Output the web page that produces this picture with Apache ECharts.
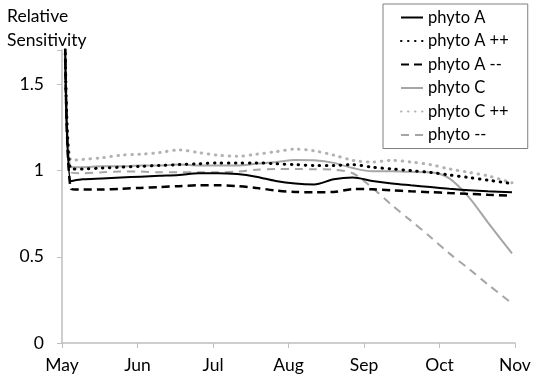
<!DOCTYPE html>
<html>
<head>
<meta charset="utf-8">
<script src="https://cdn.jsdelivr.net/npm/echarts@6/dist/echarts.min.js"></script>
<style>html,body{margin:0;padding:0;background:#fff}#c{width:550px;height:382px}</style>
</head>
<body>
<div id="c"></div>
<script>
// x positions in months since 1 May
var xMonths = [0.04, 0.12, 0.27, 0.53, 0.78, 1.04, 1.29, 1.55, 1.81, 2.06, 2.32, 2.57, 2.83, 3.09, 3.34, 3.6, 3.85, 4.11, 4.37, 4.62, 4.88, 5.13, 5.39, 5.64, 5.96];
var monthLabels = ['May', 'Jun', 'Jul', 'Aug', 'Sep', 'Oct', 'Nov'];
var yTicks = [0, 0.5, 1, 1.5];
var seriesNames = ['phyto A', 'phyto A ++', 'phyto A --', 'phyto C', 'phyto C ++', 'phyto --'];

var phytoA     = [1.8, 0.94, 0.95, 0.955, 0.96, 0.965, 0.97, 0.975, 0.985, 0.985, 0.98, 0.965, 0.94, 0.925, 0.92, 0.95, 0.96, 0.94, 0.925, 0.915, 0.905, 0.895, 0.886, 0.88, 0.875];
var phytoApp   = [1.8, 1.01, 1.01, 1.015, 1.02, 1.025, 1.03, 1.035, 1.04, 1.045, 1.045, 1.045, 1.04, 1.035, 1.03, 1.03, 1.035, 1.02, 1.01, 1.0, 0.99, 0.975, 0.96, 0.945, 0.925];
var phytoAmm   = [1.8, 0.895, 0.89, 0.89, 0.895, 0.9, 0.905, 0.91, 0.915, 0.915, 0.91, 0.9, 0.885, 0.876, 0.875, 0.876, 0.893, 0.892, 0.886, 0.88, 0.875, 0.87, 0.865, 0.86, 0.855];
var phytoC     = [1.8, 1.02, 1.02, 1.025, 1.025, 1.03, 1.03, 1.035, 1.03, 1.03, 1.03, 1.04, 1.05, 1.062, 1.06, 1.045, 1.015, 0.996, 0.996, 0.993, 0.99, 0.955, 0.845, 0.70, 0.52];
var phytoCpp   = [1.8, 1.06, 1.065, 1.075, 1.09, 1.095, 1.105, 1.12, 1.105, 1.09, 1.083, 1.095, 1.11, 1.125, 1.115, 1.09, 1.06, 1.05, 1.06, 1.05, 1.035, 1.01, 0.99, 0.97, 0.93];
var phytoMm    = [1.8, 0.99, 0.985, 0.99, 0.995, 0.995, 0.99, 0.99, 0.99, 0.99, 0.995, 1.005, 1.01, 1.01, 1.008, 1.005, 0.985, 0.90, 0.80, 0.71, 0.615, 0.52, 0.43, 0.34, 0.23];

function pairs(vals) { return xMonths.map(function (m, i) { return [m, vals[i]]; }); }

var FONT = 'Lato';
var FS = 17.5;
var styles = [
  { color: '#000000', width: 2, type: 'solid', cap: 'butt' },
  { color: '#000000', width: 3, type: [0.5, 6.5], cap: 'round' },
  { color: '#000000', width: 2.5, type: [8, 5], cap: 'butt' },
  { color: '#a6a6a6', width: 2, type: 'solid', cap: 'butt' },
  { color: '#b3b3b3', width: 3, type: [0.5, 6.5], cap: 'round' },
  { color: '#a6a6a6', width: 2, type: [8, 6], cap: 'butt' }
];
var datas = [phytoA, phytoApp, phytoAmm, phytoC, phytoCpp, phytoMm];

var chart = echarts.init(document.getElementById('c'), null, { renderer: 'canvas' });
chart.setOption({
  animation: false,
  backgroundColor: '#ffffff',
  textStyle: { fontFamily: FONT },
  grid: { left: 62, right: 35, top: 50, bottom: 39, containLabel: false },
  xAxis: {
    type: 'value', min: 0, max: 6, interval: 1,
    axisLine: { lineStyle: { color: '#bfbfbf', width: 1.5 } },
    axisTick: { show: true, length: 5, lineStyle: { color: '#bfbfbf', width: 1 } },
    splitLine: { show: false },
    axisLabel: { color: '#000', fontSize: FS, fontFamily: FONT, margin: 13,
      formatter: function (v) { return monthLabels[Math.round(v)] || ''; } }
  },
  yAxis: {
    type: 'value', min: 0, max: 1.7, interval: 0.5,
    axisLine: { show: true, lineStyle: { color: '#bfbfbf', width: 1.5 } },
    axisTick: { show: true, length: 5, lineStyle: { color: '#bfbfbf', width: 1 } },
    splitLine: { show: false },
    axisLabel: { color: '#000', fontSize: FS, fontFamily: FONT, margin: 18,
      formatter: function (v) { return yTicks.indexOf(v) >= 0 ? String(v) : ''; } }
  },
  graphic: [{
    type: 'text', left: 7, top: 4,
    style: { text: 'Relative\nSensitivity', fill: '#000', font: FS + 'px ' + FONT, lineHeight: 24 }
  }],
  legend: {
    show: true,
    orient: 'vertical', left: 383, top: 4,
    padding: [5, 19, 5, 17],
    itemWidth: 22, itemHeight: 14, itemGap: 6.5,
    borderColor: '#7f7f7f', borderWidth: 1, backgroundColor: '#ffffff',
    itemStyle: { color: 'rgba(0,0,0,0)', borderColor: 'rgba(0,0,0,0)', borderWidth: 0, opacity: 0 },
    textStyle: { color: '#000', fontSize: 16.5, fontFamily: FONT, lineHeight: 16 },
    data: seriesNames.slice()
  },
  series: seriesNames.map(function (n, i) {
    return {
      name: n, type: 'line', data: pairs(datas[i]), symbol: 'none', smooth: 0.3,
      clip: true,
      lineStyle: { color: styles[i].color, width: styles[i].width, type: styles[i].type, cap: styles[i].cap },
      itemStyle: { color: styles[i].color },
      z: 10 - i
    };
  })
});
</script>
</body>
</html>
